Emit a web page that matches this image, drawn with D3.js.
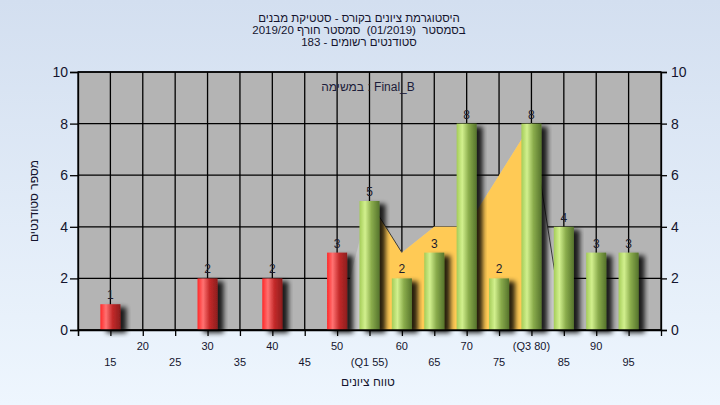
<!DOCTYPE html>
<html><head><meta charset="utf-8">
<script src="https://cdn.jsdelivr.net/npm/d3@7/dist/d3.min.js"></script>
<style>
html,body{margin:0;padding:0;}
body{width:720px;height:405px;overflow:hidden;}
text{font-family:"Liberation Sans",Arial,sans-serif;}
</style></head>
<body>
<svg id="chart" width="720" height="405"></svg>
<script>
// ---------- data ----------
const categories = [15,20,25,30,35,40,45,50,55,60,65,70,75,80,85,90,95];
const counts     = [1, 0, 0, 2, 0, 2, 0, 3, 5, 2, 3, 8, 2, 8, 4, 3, 3];
const xTickLabels = ["15","20","25","30","35","40","45","50","(Q1 55)","60","65","70","75","(Q3 80)","85","90","95"];
const passMark = 55;
const areaX = [50,55,60,65,70,75,80,85];
const areaY = [0, 5, 3, 4, 4, 6, 8, 0];
const q1 = 55, q3 = 80;
const yTicks = [0,2,4,6,8,10];
const titleLines = [
  "היסטוגרמת ציונים בקורס - סטטיקת מבנים",
  "בסמסטר\u00A0 (01/2019)\u00A0 סמסטר חורף 2019/20",
  "סטודנטים רשומים - 183"
];
const subTitle = "במשימה : Final_B";
const yTitle = "מספר סטודנטים";
const xTitle = "טווח ציונים";

// ---------- drawing ----------
const svg = d3.select("#chart");
const defs = svg.append("defs");
const bg = defs.append("linearGradient").attr("id","bg").attr("x1",0).attr("y1",0).attr("x2",0).attr("y2",1);
bg.append("stop").attr("offset","0%").attr("stop-color","#d3dff0");
bg.append("stop").attr("offset","100%").attr("stop-color","#eef6fe");
function barGrad(id, c0, c1, c2, c3){
  const g = defs.append("linearGradient").attr("id",id).attr("x1",0).attr("y1",0).attr("x2",1).attr("y2",0);
  g.append("stop").attr("offset","0%").attr("stop-color",c0);
  g.append("stop").attr("offset","28%").attr("stop-color",c1);
  g.append("stop").attr("offset","60%").attr("stop-color",c2);
  g.append("stop").attr("offset","100%").attr("stop-color",c3);
}
barGrad("gRed","#ff2828","#ff7272","#c42a2a","#8c1e1e");
barGrad("gGreen","#a4cc58","#d2f08e","#8aac4c","#56742c");
const sh = defs.append("filter").attr("id","shadow").attr("x","-30%").attr("y","-30%").attr("width","180%").attr("height","160%");
sh.append("feGaussianBlur").attr("in","SourceAlpha").attr("stdDeviation",2.5).attr("result","b");
sh.append("feOffset").attr("in","b").attr("dx",6).attr("dy",3).attr("result","o");
sh.append("feComponentTransfer").attr("in","o").attr("result","o2")
  .append("feFuncA").attr("type","linear").attr("slope",0.85);
const m = sh.append("feMerge");
m.append("feMergeNode").attr("in","o2");
m.append("feMergeNode").attr("in","SourceGraphic");

svg.append("rect").attr("width",720).attr("height",405).attr("fill","url(#bg)");

const x = d3.scaleLinear().domain([10,100]).range([78,661]);
const y = d3.scaleLinear().domain([0,10]).range([330,72]);
const step = x(15)-x(10);
const bw = step*0.62;

// plot background
svg.append("rect").attr("x",x(10)).attr("y",y(10)).attr("width",x(100)-x(10)).attr("height",y(0)-y(10)).attr("fill","#b4b4b4");

// grid
const grid = svg.append("g").attr("stroke","#000").attr("stroke-width",1.3);
grid.selectAll("line.v").data(categories).join("line")
  .attr("x1",d=>x(d)).attr("x2",d=>x(d)).attr("y1",y(10)).attr("y2",y(0));
grid.selectAll("line.h").data(yTicks).join("line")
  .attr("x1",x(10)).attr("x2",x(100)).attr("y1",d=>y(d)).attr("y2",d=>y(d));

// area series (light gray outside IQR, orange inside)
const pts = areaX.map((v,i)=>[v,areaY[i]]);
const area = d3.area().x(d=>x(d[0])).y0(y(0)).y1(d=>y(d[1]));
svg.append("path").datum(pts).attr("d",area).attr("fill","#c6c6c6");
svg.append("path").datum(pts.filter(d=>d[0]>=q1 && d[0]<=q3)).attr("d",area).attr("fill","#ffca55");
const edge = d3.line().x(d=>x(d[0])).y(d=>y(d[1]));
for(let i=1;i<pts.length;i++){
  if(pts[i][1]<pts[i-1][1]){
    svg.append("path").datum([pts[i-1],pts[i]]).attr("d",edge).attr("stroke","#3a3a3a").attr("stroke-width",1).attr("fill","none");
  }
}

// bars
const data = categories.map((c,i)=>({c, v:counts[i]})).filter(d=>d.v>0);
svg.append("g").selectAll("rect").data(data).join("rect")
  .attr("x",d=>x(d.c)-bw/2).attr("width",bw)
  .attr("y",d=>y(d.v)).attr("height",d=>y(0)-y(d.v))
  .attr("fill",d=>d.c<passMark?"url(#gRed)":"url(#gGreen)")
  .attr("filter","url(#shadow)");
svg.append("g").selectAll("text").data(data).join("text")
  .attr("x",d=>x(d.c)).attr("y",d=>y(d.v)-5)
  .attr("text-anchor","middle").attr("font-size",12).attr("fill","#1c1c2c")
  .text(d=>d.v);

// plot border
svg.append("rect").attr("x",x(10)).attr("y",y(10)).attr("width",x(100)-x(10)).attr("height",y(0)-y(10))
  .attr("fill","none").attr("stroke","#000").attr("stroke-width",1.3);

// axes
const yl = svg.append("g").attr("transform",`translate(${x(10)},0)`)
  .call(d3.axisLeft(y).tickValues(yTicks).tickSize(8).tickPadding(2));
const yr = svg.append("g").attr("transform",`translate(${x(100)},0)`)
  .call(d3.axisRight(y).tickValues(yTicks).tickSize(6).tickPadding(4));
[yl,yr].forEach(g=>{
  g.selectAll("text").attr("font-size",14).attr("fill","#14142e").attr("font-family","Liberation Sans, Arial, sans-serif");
  g.selectAll("line,path").attr("stroke","#000").attr("stroke-width",1.3);
});
const xb = svg.append("g").attr("transform",`translate(0,${y(0)})`)
  .call(d3.axisBottom(x).tickValues([10].concat(categories)).tickSize(6).tickFormat(""));
xb.selectAll("line,path").attr("stroke","#000").attr("stroke-width",1.3);

svg.append("g").selectAll("text").data(categories).join("text")
  .attr("x",d=>x(d)).attr("y",(d,i)=> i%2===0 ? 366 : 350)
  .attr("text-anchor","middle").attr("font-size",11).attr("fill","#14142e")
  .text((d,i)=>xTickLabels[i]);

// titles
svg.append("g").selectAll("text").data(titleLines).join("text")
  .attr("x",359).attr("y",(d,i)=>22+i*12)
  .attr("text-anchor","middle").attr("font-size",11.5).attr("fill","#14142e")
  .text(d=>d);
svg.append("text").attr("x",368).attr("y",91).attr("text-anchor","middle").attr("font-size",12).attr("fill","#1c1c3a")
  .text(subTitle);
svg.append("text").attr("transform","translate(38,201) rotate(-90)").attr("text-anchor","middle")
  .attr("font-size",12).attr("fill","#14142e").text(yTitle);
svg.append("text").attr("x",368).attr("y",386).attr("text-anchor","middle").attr("font-size",12).attr("fill","#14142e")
  .text(xTitle);
</script>
</body></html>
